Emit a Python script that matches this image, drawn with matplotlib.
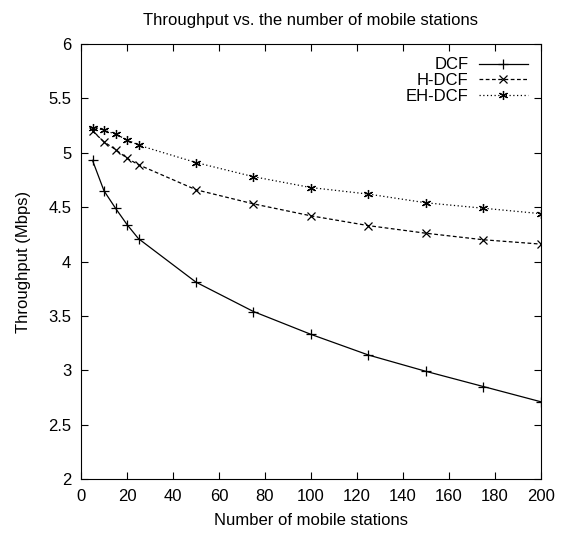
import numpy as np
import matplotlib.pyplot as plt

plt.rcParams['font.family'] = ['Liberation Sans', 'DejaVu Sans']

# data
stations = [5, 10, 15, 20, 25, 50, 75, 100, 125, 150, 175, 200]
dcf = [4.93, 4.65, 4.49, 4.34, 4.21, 3.81, 3.54, 3.33, 3.14, 2.99, 2.85, 2.71]
h_dcf = [5.20, 5.10, 5.03, 4.95, 4.89, 4.66, 4.53, 4.42, 4.33, 4.26, 4.20, 4.16]
eh_dcf = [5.23, 5.21, 5.17, 5.12, 5.07, 4.91, 4.78, 4.68, 4.62, 4.54, 4.49, 4.44]

fig = plt.figure(figsize=(5.61, 5.33), dpi=100)
ax = fig.add_axes([0.1444, 0.1013, 0.8199, 0.8161])

ax.plot(stations, dcf, color='black', lw=0.9, marker='+', ms=6.5, mew=0.9, label='DCF')
ax.plot(stations, h_dcf, color='black', lw=0.9, ls=(0, (3, 2)), marker='x', ms=5.5, mew=0.9, label='H-DCF')
ax.plot(stations, eh_dcf, color='black', lw=0.9, ls=(0, (1, 2)), marker=(6, 2, 0), ms=6.5, mew=0.9, label='EH-DCF')

ax.set_xlim(0, 200)
ax.set_ylim(2, 6)
ax.set_xticks(np.arange(0, 201, 20))
ax.set_yticks(np.arange(2, 6.01, 0.5))
ax.set_yticklabels(['2', '2.5', '3', '3.5', '4', '4.5', '5', '5.5', '6'])
ax.tick_params(direction='in', top=True, right=True, length=5, labelsize=12, pad=7)

ax.set_title('Throughput vs. the number of mobile stations', fontsize=12, pad=14)
ax.set_xlabel('Number of mobile stations', fontsize=12, labelpad=7)
ax.set_ylabel('Throughput (Mbps)', fontsize=12, labelpad=12)

ax.legend(loc='upper right', frameon=False, markerfirst=False, fontsize=12,
          handlelength=2.9, borderaxespad=0.5, borderpad=0.3, labelspacing=0.05,
          handletextpad=0.65)

fig.savefig('out.png', dpi=100)
